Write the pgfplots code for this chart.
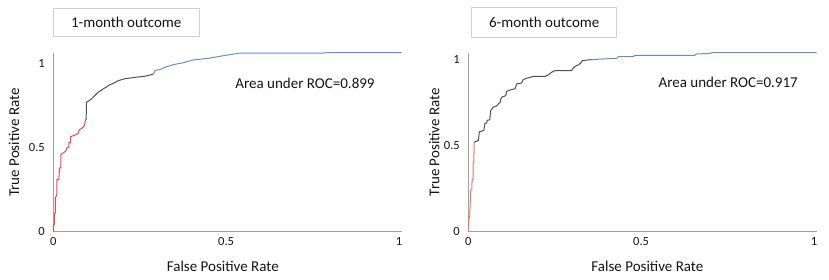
\documentclass[border=0pt]{standalone}
\usepackage{fontspec}
\setmainfont{Carlito}
\usepackage{pgfplots}
\pgfplotsset{compat=1.18}
\definecolor{rocredA}{HTML}{E84A4A}
\definecolor{rocredB}{HTML}{EE7070}
\definecolor{rocgray}{HTML}{505050}
\definecolor{rocblueA}{HTML}{6A8AD0}
\definecolor{rocblueB}{HTML}{7088C0}
\definecolor{axgray}{HTML}{A0A0A0}
\definecolor{boxgray}{HTML}{D0D0D0}
\definecolor{txt}{HTML}{141414}
\begin{document}
\begin{tikzpicture}
\path[use as bounding box] (0,0) rectangle (829pt,279pt);
\pgfplotsset{panel/.style={
  scale only axis, width=348.4pt, height=179pt,
  xmin=0, xmax=1.008, ymin=0,
  axis x line*=bottom, axis y line*=left,
  axis line style={draw=axgray, line width=0.9pt},
  major tick length=0pt,
  xtick={0,0.5,1}, xticklabels={0,0.5,1},
  ytick={0,0.5,1}, yticklabels={0,0.5,1},
  tick label style={font=\fontsize{12.5}{14}\selectfont, text=txt},
  yticklabel style={xshift=-5pt},
  xticklabel style={yshift=-2pt},
  label style={font=\fontsize{15}{18}\selectfont, text=txt},
  clip=false, anchor=south west,
  every axis plot/.append style={line width=1pt, line join=round},
}}
% ---------- left panel ----------
\begin{axis}[panel, at={(53.3pt,47.3pt)}, ymax=1.065,
  xlabel={False Positive Rate}, ylabel={True Positive Rate},
  xlabel style={at={(rel axis cs:0.4865,-0.1955)}, anchor=center},
  ylabel style={at={(rel axis cs:-0.1128,0.498)}, anchor=center}]
\addplot[rocredA] coordinates {
(0,0)(0,0.04)(0.003,0.04)(0.003,0.11)(0.006,0.11)(0.006,0.20)(0.010,0.22)(0.010,0.31)
(0.016,0.31)(0.018,0.38)(0.022,0.38)(0.022,0.46)(0.030,0.47)(0.036,0.48)(0.040,0.50)
(0.045,0.50)(0.045,0.53)(0.050,0.53)(0.050,0.565)(0.063,0.575)(0.072,0.585)(0.075,0.605)
(0.085,0.62)(0.090,0.63)(0.093,0.665)(0.095,0.665)};
\addplot[rocgray] coordinates {
(0.095,0.665)(0.096,0.77)(0.100,0.775)(0.110,0.79)(0.120,0.81)(0.130,0.83)(0.145,0.85)
(0.160,0.87)(0.175,0.885)(0.190,0.90)(0.207,0.91)(0.235,0.918)(0.265,0.925)(0.285,0.935)(0.290,0.94)};
\addplot[rocblueA] coordinates {
(0.290,0.94)(0.295,0.96)(0.310,0.965)(0.325,0.98)(0.350,0.995)(0.375,1.005)(0.405,1.022)
(0.450,1.032)(0.500,1.05)(0.540,1.063)(0.780,1.063)(0.790,1.065)(1.008,1.065)};
\node[draw=boxgray, line width=0.6pt, minimum width=146pt, minimum height=28.5pt, inner sep=0pt,
  font=\fontsize{15}{18}\selectfont, text=txt] at (rel axis cs:0.2095,1.170) {1-month outcome};
\node[font=\fontsize{15}{18}\selectfont, text=txt] at (rel axis cs:0.7225,0.829) {Area under ROC=0.899};
\end{axis}
% ---------- right panel ----------
\begin{axis}[panel, at={(468.3pt,47.3pt)}, ymax=1.04,
  xlabel={False Positive Rate}, ylabel={True Positive Rate},
  xlabel style={at={(rel axis cs:0.514,-0.195)}, anchor=center},
  ylabel style={at={(rel axis cs:-0.098,0.50)}, anchor=center}]
\addplot[rocredB] coordinates {
(0,0)(0.002,0.08)(0.004,0.08)(0.005,0.135)(0.007,0.24)(0.010,0.245)(0.011,0.30)
(0.014,0.305)(0.014,0.40)(0.016,0.40)(0.017,0.52)};
\addplot[rocgray] coordinates {
(0.017,0.52)(0.029,0.53)(0.032,0.58)(0.040,0.585)(0.045,0.59)(0.048,0.628)(0.053,0.632)
(0.055,0.647)(0.062,0.65)(0.065,0.705)(0.072,0.724)(0.082,0.73)(0.087,0.744)(0.092,0.75)
(0.094,0.772)(0.097,0.782)(0.108,0.79)(0.111,0.815)(0.125,0.826)(0.135,0.83)(0.140,0.859)
(0.154,0.864)(0.159,0.884)(0.173,0.894)(0.188,0.902)(0.222,0.902)(0.231,0.911)(0.241,0.926)
(0.251,0.936)(0.299,0.936)(0.303,0.95)(0.313,0.965)(0.318,0.969)(0.325,0.98)(0.330,0.994)(0.357,1.0)};
\addplot[rocblueB] coordinates {
(0.357,1.0)(0.430,1.008)(0.434,1.017)(0.478,1.018)(0.482,1.025)(0.655,1.025)(0.660,1.033)
(0.700,1.035)(0.703,1.04)(1.008,1.04)};
\node[draw=boxgray, line width=0.6pt, minimum width=145pt, minimum height=29.5pt, inner sep=0pt,
  font=\fontsize{15}{18}\selectfont, text=txt] at (rel axis cs:0.218,1.1706) {6-month outcome};
\node[font=\fontsize{15}{18}\selectfont, text=txt] at (rel axis cs:0.746,0.836) {Area under ROC=0.917};
\end{axis}
\end{tikzpicture}
\end{document}
